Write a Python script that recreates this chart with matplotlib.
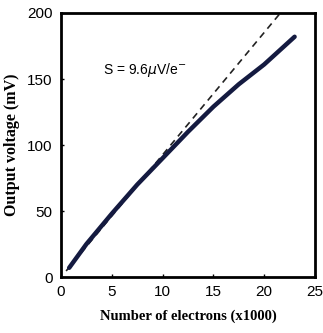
import matplotlib
matplotlib.use('Agg')
import matplotlib.pyplot as plt
import numpy as np

# measured curve
electrons = [0.8, 2.5, 5, 7.5, 10, 12.5, 15, 17.5, 20, 23]
voltage = [7, 25, 48, 70, 90, 110, 129, 146, 161, 182]
# ideal line
ideal_x = [0.5, 21.6]
ideal_y = [4.6, 200]

fig = plt.figure(figsize=(3.23, 3.33), dpi=100)
ax = fig.add_axes([0.189, 0.168, 0.786, 0.793])

ax.plot(ideal_x, ideal_y, '--', color='#222222', lw=1.2, dashes=(4, 3))
ax.plot(electrons, voltage, '-', color='#141a40', lw=3.2, solid_capstyle='round')

ax.text(4.1, 157, 'S = 9.6$\\mu$V/e$^{-}$', fontsize=10, family='Liberation Sans', va='center')

ax.set_xlim(0, 25)
ax.set_ylim(0, 200)
ax.set_xticks([0, 5, 10, 15, 20, 25])
ax.set_yticks([0, 50, 100, 150, 200])
for s in ax.spines.values():
    s.set_linewidth(2)
ax.tick_params(direction='in', length=2, width=1, labelsize=11, pad=6)
for lab in ax.get_xticklabels() + ax.get_yticklabels():
    lab.set_family('Liberation Sans')

ax.set_xlabel('Number of electrons (x1000)', family='Liberation Serif', fontweight='bold', fontsize=10.5, labelpad=7)
ax.set_ylabel('Output voltage (mV)', family='Liberation Serif', fontweight='bold', fontsize=11.5, labelpad=5)

fig.savefig('out.png', dpi=100)
